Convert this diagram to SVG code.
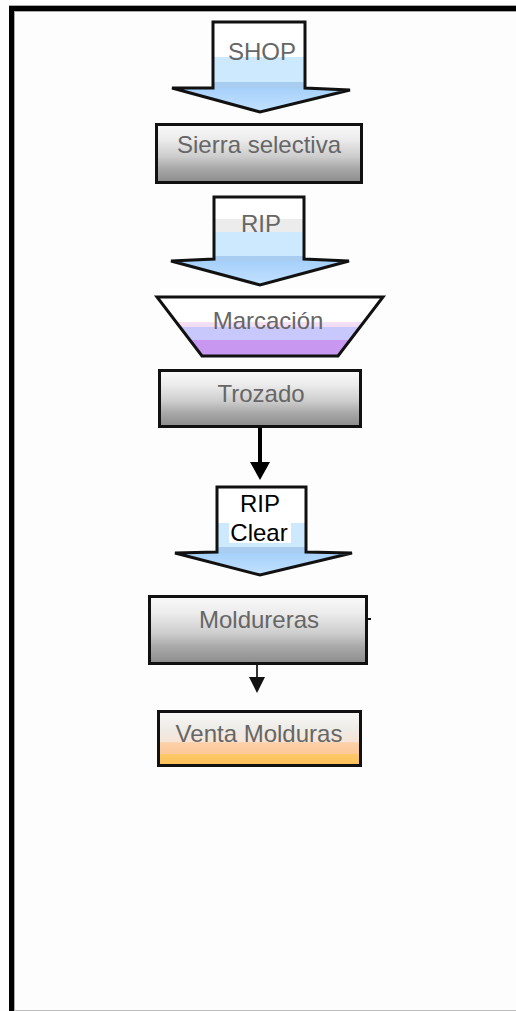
<svg xmlns="http://www.w3.org/2000/svg" width="516" height="1011" viewBox="0 0 516 1011">
<defs>
<style>
.box{stroke:#111;stroke-width:3}
.arr{stroke:#111;stroke-width:3;stroke-linejoin:miter}
.lbl{font-family:"Liberation Sans",Arial,sans-serif;font-size:24px;fill:#666;text-anchor:middle}
.lblk{font-family:"Liberation Sans",Arial,sans-serif;font-size:24px;fill:#000;text-anchor:middle}
</style>
<linearGradient id="gGray" x1="0" y1="0" x2="0" y2="1">
<stop offset="0" stop-color="#fafafa"/>
<stop offset="0.25" stop-color="#ececec"/>
<stop offset="0.55" stop-color="#cdcdcd"/>
<stop offset="0.75" stop-color="#a9a9a9"/>
<stop offset="1" stop-color="#8c8c8c"/>
</linearGradient>
<linearGradient id="gShop" x1="0" y1="0" x2="0" y2="1">
<stop offset="0" stop-color="#fff"/><stop offset="0.39" stop-color="#fff"/>
<stop offset="0.39" stop-color="#cde9fd"/><stop offset="0.667" stop-color="#cde9fd"/>
<stop offset="0.667" stop-color="#a9cdf0"/><stop offset="0.733" stop-color="#a9cdf0"/>
<stop offset="0.733" stop-color="#a6d0fa"/><stop offset="1" stop-color="#c2e2ff"/>
</linearGradient>
<linearGradient id="gRip" x1="0" y1="0" x2="0" y2="1">
<stop offset="0" stop-color="#fff"/><stop offset="0.25" stop-color="#fff"/>
<stop offset="0.25" stop-color="#ececec"/><stop offset="0.40" stop-color="#ececec"/>
<stop offset="0.40" stop-color="#cde9fd"/><stop offset="0.67" stop-color="#cde9fd"/>
<stop offset="0.67" stop-color="#a9cdf0"/><stop offset="0.73" stop-color="#a9cdf0"/>
<stop offset="0.73" stop-color="#a6d0fa"/><stop offset="1" stop-color="#c2e2ff"/>
</linearGradient>
<linearGradient id="gClear" x1="0" y1="0" x2="0" y2="1">
<stop offset="0" stop-color="#fff"/><stop offset="0.41" stop-color="#fff"/>
<stop offset="0.41" stop-color="#cde9fd"/><stop offset="0.68" stop-color="#cde9fd"/>
<stop offset="0.68" stop-color="#a9cdf0"/><stop offset="0.75" stop-color="#a9cdf0"/>
<stop offset="0.75" stop-color="#a6d0fa"/><stop offset="1" stop-color="#c2e2ff"/>
</linearGradient>
<linearGradient id="gMarc" x1="0" y1="0" x2="0" y2="1">
<stop offset="0" stop-color="#fff"/><stop offset="0.43" stop-color="#fff"/>
<stop offset="0.43" stop-color="#f4e2f4"/><stop offset="0.5" stop-color="#f0dcf4"/>
<stop offset="0.5" stop-color="#c8c8fc"/><stop offset="0.73" stop-color="#c8c8fc"/>
<stop offset="0.73" stop-color="#c898f0"/><stop offset="1" stop-color="#c898f0"/>
</linearGradient>
<linearGradient id="gVenta" x1="0" y1="0" x2="0" y2="1">
<stop offset="0" stop-color="#f8f8f6"/>
<stop offset="0.3" stop-color="#eeede8"/>
<stop offset="0.56" stop-color="#f6e4d6"/>
<stop offset="0.58" stop-color="#fdd0a8"/><stop offset="0.79" stop-color="#fcc898"/>
<stop offset="0.79" stop-color="#fcc868"/><stop offset="1" stop-color="#fcc058"/>
</linearGradient>
</defs>

<g id="frame">
<rect x="0" y="0" width="516" height="1011" fill="#fdfdfd"/>
<rect x="9" y="6" width="507" height="5" fill="#000"/>
<rect x="9" y="6" width="5" height="1005" fill="#000"/>
<line x1="9" y1="5.5" x2="516" y2="5.5" stroke="#aaa" stroke-width="1"/>
<line x1="14" y1="11.5" x2="516" y2="11.5" stroke="#aaa" stroke-width="1"/>
<line x1="14.5" y1="11" x2="14.5" y2="1011" stroke="#aaa" stroke-width="1"/>
<line x1="14" y1="1010.5" x2="516" y2="1010.5" stroke="#bbb" stroke-width="1"/>
</g>

<g id="connectors">
<line x1="260" y1="421" x2="260" y2="463" stroke="#000" stroke-width="4"/>
<polygon points="250,462 270,462 260,480" fill="#000"/>
<line x1="257" y1="657" x2="257" y2="678" stroke="#333" stroke-width="2"/>
<polygon points="249,677 265,677 257,693" fill="#111"/>
</g>

<g id="shop">
<path class="arr" fill="url(#gShop)" d="M213,22 H305 V88 L350,90 L260,112 L172,88 H213 Z"/>
<text class="lbl" x="262" y="60">SHOP</text>
</g>

<g id="sierra">
<rect class="box" x="156.5" y="124.5" width="205" height="58" fill="url(#gGray)"/>
<text class="lbl" x="259" y="153">Sierra selectiva</text>
</g>

<g id="rip">
<path class="arr" fill="url(#gRip)" d="M214,197 H304 V259 L349,261 L260,285 L171,261 L214,259 Z"/>
<text class="lbl" x="261" y="232">RIP</text>
</g>

<g id="marcacion">
<polygon class="arr" fill="url(#gMarc)" points="157,297 383,297 338,356 202,356"/>
<text class="lbl" x="268" y="329">Marcación</text>
</g>

<g id="trozado">
<rect class="box" x="159.5" y="370.5" width="201" height="56" fill="url(#gGray)"/>
<text class="lbl" x="261" y="402">Trozado</text>
</g>

<g id="ripclear">
<path class="arr" fill="url(#gClear)" d="M217,487 H306 V552 L352,553 L260,575 L175,553 L217,552 Z"/>
<rect x="229" y="522" width="62" height="21" fill="#fff"/>
<text class="lblk" x="260" y="512">RIP</text>
<text class="lblk" x="259" y="541">Clear</text>
</g>

<g id="moldureras">
<rect class="box" x="149.5" y="596.5" width="217" height="67" fill="url(#gGray)"/>
<line x1="368" y1="619" x2="371" y2="619" stroke="#111" stroke-width="2"/>
<text class="lbl" x="259" y="628">Moldureras</text>
</g>

<g id="venta">
<rect class="box" x="158.5" y="711.5" width="202" height="54" fill="url(#gVenta)"/>
<text class="lbl" x="259" y="742">Venta Molduras</text>
</g>
</svg>
